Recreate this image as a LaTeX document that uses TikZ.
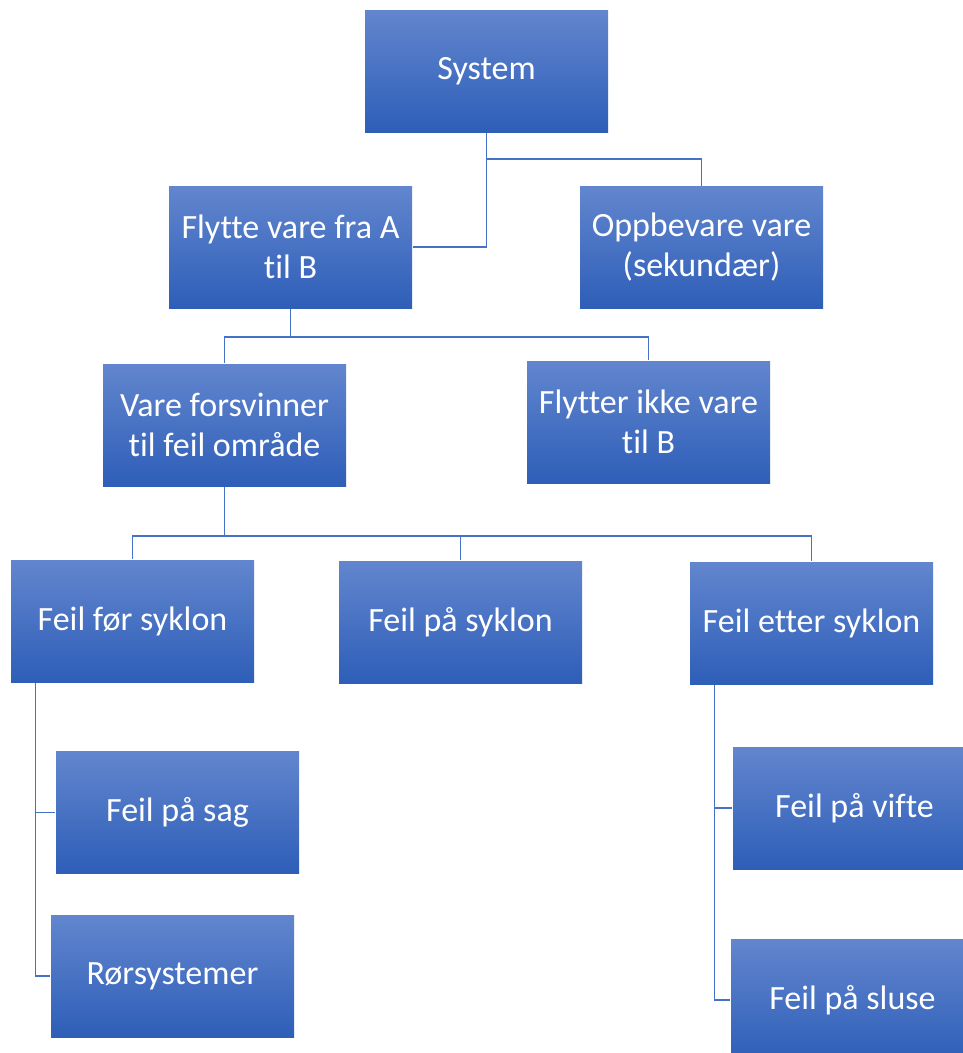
\documentclass[tikz,border=0pt]{standalone}
\usepackage{fontspec}
\setmainfont[Ligatures={NoCommon}]{Carlito}
\usetikzlibrary{positioning,calc}
\definecolor{boxtop}{RGB}{98,134,206}
\definecolor{boxbot}{RGB}{46,94,184}
\definecolor{linkcol}{RGB}{68,114,196}
\begin{document}
\begin{tikzpicture}
  [
  x=1pt, y=-1pt,
  font=\fontsize{34}{40}\selectfont, line width=1.5pt, draw=linkcol,
  task/.style={rectangle, minimum height=122pt, minimum width=243pt, inner sep=0pt, align=center, text=white, top color=boxtop, bottom color=boxbot, draw=none},
  link/.style={draw=linkcol, line width=1.5pt}
  ]
\useasboundingbox (0,0) rectangle (963,1053);

\node[task] (sys) at (486.5,71) {System};
\node[task] (fly) at (290.5,247) {Flytte vare fra A\\til B};
\node[task] (opp) at (701.5,247.5) {Oppbevare vare\\(sekundær)};
\node[task] (vare) at (224.5,425) {Vare forsvinner\\til feil område};
\node[task] (ikke) at (648.5,422) {Flytter ikke vare\\til B};

\node[task] (for) at (132.5,621) {Feil før syklon};
\node[task] (paa) at (460.5,622) {Feil på syklon};
\node[task] (etter) at (811.5,623) {Feil etter syklon};

\node[task] (sag) at (177.5,812.5) {Feil på sag};
\node[task] (ror) at (172.5,976) {Rørsystemer};
\node[task] (vifte) at (854.5,808) {Feil på vifte};
\node[task] (sluse) at (852.5,1000) {Feil på sluse};

% level 1
\draw[link] (sys.south) -- ++(0,26) -| (opp.north);
\draw[link] (sys.south) |- (fly.east);

% level 2
\draw[link] (fly.south) -- ++(0,28) -| (vare.north);
\draw[link] (fly.south) -- ++(0,28) -| (ikke.north);

% level 3
\foreach \t in {for,paa,etter} {
  \draw[link] (vare.south) -- ++(0,49) -| (\t.north);
}

% side branches
\draw[link] ([xshift=25pt]for.south west) |- (sag.west);
\draw[link] ([xshift=25pt]for.south west) |- (ror.west);
\draw[link] ([xshift=25pt]etter.south west) |- (vifte.west);
\draw[link] ([xshift=25pt]etter.south west) |- (sluse.west);
\end{tikzpicture}
\end{document}
